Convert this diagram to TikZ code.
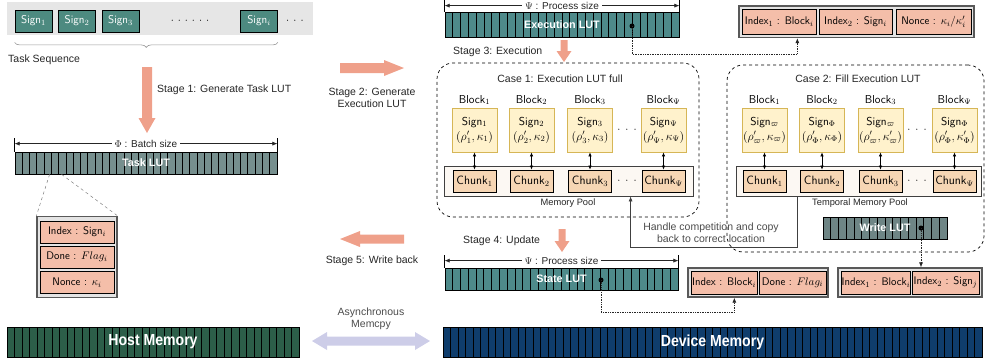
\documentclass[tikz,border=0pt]{standalone}
\usepackage{fontspec}
\newfontfamily\arial{Liberation Sans}
\usetikzlibrary{arrows.meta,decorations.pathreplacing,calc}
\definecolor{seqteal}{HTML}{4D8A80}
\definecolor{taskgray}{HTML}{768F8E}
\definecolor{lutteal}{HTML}{4E8A8A}
\definecolor{writegray}{HTML}{6E8585}
\definecolor{salmon}{HTML}{EFA08A}
\definecolor{idxfill}{HTML}{F4BEA9}
\definecolor{outerfill}{HTML}{E4E4E4}
\definecolor{yelfill}{HTML}{FFF2CC}
\definecolor{yelline}{HTML}{D6B656}
\definecolor{chunkfill}{HTML}{F6D6B4}
\definecolor{poolfill}{HTML}{FCF8F3}
\definecolor{hostgreen}{HTML}{2C5E49}
\definecolor{devblue}{HTML}{0F3D6C}
\definecolor{lav}{HTML}{CDCDE8}
\definecolor{seqbg}{HTML}{E6E6E6}

\newcommand\stripebar[8]{% name x1 y1 x2 y2 cells fill stripewidth
  \pgfmathsetmacro\sbw{#4-#2}\pgfmathsetmacro\sbh{#5-#3}%
  \pgfmathsetmacro\sbx{(#2+#4)/2}\pgfmathsetmacro\sby{(#3+#5)/2}%
  \pgfmathsetmacro\sbs{(#4-#2)/#6}\pgfmathtruncatemacro\sbn{#6-1}%
  \node[draw=black, fill=#7, line width=#8, inner sep=0pt, minimum width=\sbw pt, minimum height=\sbh pt] (#1) at (\sbx,\sby) {};
  \foreach \k in {1,...,\sbn}{\draw[line width=#8] ({#2+\k*\sbs},#3) -- ({#2+\k*\sbs},#5);}
}
\newcommand\harr[7]{% x1 x2 y shafthalf headhalf headlen(signed) color
  \fill[#7] (#1,{#3-#4}) -- ({#2-(#6)},{#3-#4}) -- ({#2-(#6)},{#3-#5}) -- (#2,#3) -- ({#2-(#6)},{#3+#5}) -- ({#2-(#6)},{#3+#4}) -- (#1,{#3+#4}) -- cycle;}
\newcommand\varr[7]{% x y1 y2 shafthalf headhalf headlen color
  \fill[#7] ({#1-#4},#2) -- ({#1-#4},{#3-#6}) -- ({#1-#5},{#3-#6}) -- (#1,#3) -- ({#1+#5},{#3-#6}) -- ({#1+#4},{#3-#6}) -- ({#1+#4},#2) -- cycle;}
\newcommand\tdots[1]{$\cdot$\hspace{#1}$\cdot$\hspace{#1}$\cdot$}

\begin{document}
\begin{tikzpicture}[x=1pt,y=-1pt,
  lbl/.style={font=\arial\fontsize{10.5}{12.5}\selectfont, text=black!85, inner sep=0pt},
  slbl/.style={font=\arial\fontsize{9.3}{11}\selectfont, text=black!85, inner sep=0pt},
  dlbl/.style={font=\arial\fontsize{10}{11}\selectfont, text=black!85, fill=white, inner xsep=3pt, inner ysep=1pt},
  sf/.style={font=\sffamily\fontsize{11.3}{13}\selectfont, inner sep=0pt},
  sfi/.style={font=\sffamily\fontsize{11}{13}\selectfont, inner sep=0pt},
  sfb/.style={font=\sffamily\fontsize{11.5}{13}\selectfont, inner sep=0pt},
  signbox/.style={sf, draw=black, fill=seqteal, text=white, minimum width=37pt, minimum height=22pt, line width=0.8pt},
  luttext/.style={font=\arial\bfseries\fontsize{10.8}{13}\selectfont, text=white, inner sep=0pt},
  memtext/.style={font=\arial\bfseries\fontsize{16}{18}\selectfont, text=white, inner sep=0pt},
  outerbox/.style={draw=black!65, fill=outerfill, line width=1.3pt, inner sep=0pt},
  idx/.style={sfi, draw=black, fill=idxfill, line width=0.8pt, minimum height=23pt},
  yel/.style={font=\sffamily\fontsize{11.5}{15}\selectfont, inner sep=0pt, draw=yelline, fill=yelfill, line width=0.8pt, minimum width=45pt, minimum height=44pt, align=center},
  chunk/.style={font=\sffamily\fontsize{12}{13}\selectfont, inner sep=0pt, draw=black, fill=chunkfill, line width=0.8pt, minimum width=43pt, minimum height=22pt},
  pool/.style={draw=black!75, fill=poolfill, line width=0.8pt, inner sep=0pt},
  dotc/.style={densely dotted, line width=0.7pt, black!85, -{Latex[length=5pt,width=4pt]}},
  dimline/.style={line width=0.6pt, black!85, {Latex[length=5pt,width=4pt]}-{Latex[length=5pt,width=4pt]}},
  dotnode/.style={circle, fill=black, inner sep=0pt, minimum size=5pt},
  casebox/.style={draw=black, dashed, line width=0.7pt, rounded corners=16pt, inner sep=0pt},
  dblarr/.style={line width=0.6pt, {Latex[length=4pt,width=3.5pt]}-{Latex[length=4pt,width=3.5pt]}}
]
\useasboundingbox (0,0) rectangle (985,362);

% ---------- task sequence ----------
\fill[seqbg] (7,2) rectangle (313,35);
\node[signbox] (s1) at (33.5,21) {Sign$_1$};
\node[signbox] (s2) at (77,21) {Sign$_2$};
\node[signbox] (s3) at (120.5,21) {Sign$_3$};
\node[signbox] (si) at (259,21) {Sign$_i$};
\node[sf] (sd) at (190,21) {\tdots{4pt}\hspace{4pt}\tdots{4pt}};
\node[sf] (se) at (295,21) {\tdots{4.2pt}};
\draw[decorate, decoration={brace, mirror, amplitude=5pt}, black!40, line width=0.6pt] ([yshift=-10pt]s1.south west) -- ([yshift=-10pt]si.south east);
\node[lbl, anchor=west] (tseq) at (8,60) {Task Sequence};

% ---------- stage 1 and task LUT ----------
\varr{147}{67}{133}{5}{8.5}{15}{salmon}
\node[lbl, anchor=west] (st1) at (157,90) {Stage 1: Generate Task LUT};
\stripebar{task}{15}{152}{277}{174}{36}{taskgray}{0.8pt}
\node[luttext] (tasklbl) at (task) {Task LUT};
\draw[line width=0.6pt] (task.north west) -- ++(0,-14);
\draw[line width=0.6pt] (task.north east) -- ++(0,-14);
\draw[dimline] ([yshift=8pt]task.north west) -- ([yshift=8pt]task.north east);
\node[dlbl] (taskdim) at ([yshift=8pt]task.north) {$\Phi$ : Batch size};

% ---------- left record ----------
\node[outerbox, minimum width=80pt, minimum height=81pt] (lo) at (77,257) {};
\node[idx, minimum width=74pt, minimum height=22pt] (l1) at (77,232) {Index : Sign$_i$};
\node[idx, minimum width=74pt, minimum height=22pt] (l2) at (77,257) {Done : $Flag_i$};
\node[idx, minimum width=74pt, minimum height=22pt] (l3) at (77,282.5) {Nonce : $\kappa_i$};
\draw[dashed, black!50, line width=0.5pt] ([xshift=35pt]task.south west) -- (lo.north west);
\draw[dashed, black!50, line width=0.5pt] ([xshift=47pt]task.south west) -- (lo.north east);

% ---------- middle stage arrows ----------
\harr{340}{404}{68}{5}{8}{20}{salmon}
\node[lbl, align=center, font=\arial\fontsize{10.5}{12.5}\selectfont] (st2) at (372,98) {Stage 2: Generate\\Execution LUT};
\harr{404}{340}{239}{4.5}{8}{-20}{salmon}
\node[lbl] (st5) at (372,261) {Stage 5: Write back};
\node[lbl, align=center, text=black!70, font=\arial\fontsize{10.5}{12}\selectfont] (async) at (371,319) {Asynchronous\\Memcpy};
\fill[lav] (312,341) -- (327,332) -- (327,336.5) -- (415,336.5) -- (415,332) -- (430,341) -- (415,350) -- (415,345.5) -- (327,345.5) -- (327,350) -- cycle;

% ---------- execution LUT ----------
\stripebar{exec}{445}{12.5}{679}{37.5}{30}{lutteal}{0.8pt}
\node[luttext] (execlbl) at (exec) {Execution LUT};
\node[dotnode] (edot) at (632,26) {};
\draw[line width=0.6pt] (exec.north west) -- ++(0,-12.5);
\draw[line width=0.6pt] (exec.north east) -- ++(0,-12.5);
\draw[dimline] ([yshift=6.5pt]exec.north west) -- ([yshift=6.5pt]exec.north east);
\node[dlbl] (execdim) at ([yshift=6.5pt]exec.north) {$\Psi$ : Process size};
\node[lbl, anchor=west] (st3) at (453,52) {Stage 3: Execution};
\varr{564}{40}{62}{3.5}{7.5}{11}{salmon}

% top-right record
\node[outerbox, minimum width=235pt, minimum height=31.5pt] (tro) at (856.5,21.75) {};
\node[idx, minimum width=73.5pt, minimum height=24.5pt] (tr1) at (779.25,21.75) {Index$_1$ : Block$_i$};
\node[idx, minimum width=73pt, minimum height=24.5pt] (tr2) at (855.5,21.75) {Index$_2$ : Sign$_i$};
\node[idx, minimum width=75pt, minimum height=24.5pt] (tr3) at (933.5,21.75) {Nonce : $\kappa_i/\kappa'_i$};
\coordinate (ta) at ([xshift=59pt]tro.south west);
\draw[dotc] (edot.center) -- ++(0,28) -| (ta);

% ---------- case 1 ----------
\node[casebox, minimum width=262pt, minimum height=154pt] (case1) at (568,140) {};
\node[lbl] (c1t) at (560,79) {Case 1: Execution LUT full};
\node[sfb] (b1) at (474.5,100) {Block$_1$};
\node[sfb] (b2) at (531.5,100) {Block$_2$};
\node[sfb] (b3) at (590,100) {Block$_3$};
\node[sfb] (b4) at (663.5,100) {Block$_\Psi$};
\node[yel] (y1) at (474.5,130) {Sign$_1$\\$(\rho'_1,\kappa_1)$};
\node[yel] (y2) at (531.5,130) {Sign$_2$\\$(\rho'_2,\kappa_2)$};
\node[yel] (y3) at (590,130) {Sign$_3$\\$(\rho'_3,\kappa_3)$};
\node[yel] (y4) at (663.5,130) {Sign$_\Psi$\\$(\rho'_\Psi,\kappa_\Psi)$};
\node[sf] (yd) at (627,130) {\tdots{5pt}};
\node[pool, minimum width=249pt, minimum height=30pt] (mpool) at (568.5,181) {};
\node[chunk] (c1) at (474.5,181) {Chunk$_1$};
\node[chunk] (c2) at (531.5,181) {Chunk$_2$};
\node[chunk] (c3) at (590,181) {Chunk$_3$};
\node[chunk] (c4) at (663.5,181) {Chunk$_\Psi$};
\node[sf] (cd) at (627,181) {\tdots{5pt}};
\foreach \i in {1,2,3,4}{\draw[dblarr] (y\i) -- (c\i);}
\node[slbl] (mpl) at (568,203) {Memory Pool};

% ---------- case 2 ----------
\node[casebox, minimum width=257pt, minimum height=187pt] (case2) at (855.5,158.5) {};
\node[lbl] (c2t) at (858,79) {Case 2: Fill Execution LUT};
\node[sfb] (bb1) at (764.5,100) {Block$_1$};
\node[sfb] (bb2) at (822,100) {Block$_2$};
\node[sfb] (bb3) at (880.5,100) {Block$_3$};
\node[sfb] (bb4) at (954.5,100) {Block$_\Psi$};
\node[yel] (z1) at (764.5,130) {Sign$_\varpi$\\$(\rho'_\varpi,\kappa_\varpi)$};
\node[yel] (z2) at (822,130) {Sign$_\Phi$\\$(\rho'_\Phi,\kappa_\Phi)$};
\node[yel] (z3) at (880.5,130) {Sign$_\varpi$\\$(\rho'_\varpi,\kappa'_\varpi)$};
\node[yel] (z4) at (954.5,130) {Sign$_\Phi$\\$(\rho'_\Phi,\kappa'_\Phi)$};
\node[sf] (zd) at (917,130) {\tdots{5pt}};
\node[pool, minimum width=245pt, minimum height=30pt] (tpool) at (858.5,181) {};
\node[chunk] (d1) at (764.5,181) {Chunk$_1$};
\node[chunk] (d2) at (822,181) {Chunk$_2$};
\node[chunk] (d3) at (880.5,181) {Chunk$_3$};
\node[chunk] (d4) at (954.5,181) {Chunk$_\Psi$};
\node[sf] (dd) at (917,181) {\tdots{5pt}};
\foreach \i in {1,2,3,4}{\draw[dblarr] (z\i) -- (d\i);}
\node[slbl] (tpl) at (860,203) {Temporal Memory Pool};

% write LUT
\stripebar{wlut}{823}{217}{947}{239}{16}{writegray}{0.8pt}
\node[luttext] (wlbl) at (wlut) {Write LUT};
\node[dotnode] (wdot) at (921,228) {};

% handle competition connector
\coordinate (hs) at ([xshift=62pt]tpool.south west);
\coordinate (he) at ([xshift=187pt]mpool.south west);
\draw[line width=0.7pt, black!75, -{Latex[length=5pt,width=4pt]}] (hs) -- ++(0,51) -| (he);
\node[lbl, align=center, text=black!70, font=\arial\fontsize{10.5}{11.5}\selectfont] (hlbl) at (711,232.5) {Handle competition and copy\\back to correct location};

% ---------- stage 4 and state LUT ----------
\node[lbl, anchor=west] (st4) at (463,241) {Stage 4: Update};
\varr{562}{229}{252}{3.5}{7.5}{11}{salmon}
\stripebar{state}{445}{268}{678}{290}{30}{lutteal}{0.8pt}
\node[luttext] (statelbl) at (state) {State LUT};
\node[dotnode] (sdot) at (601,280) {};
\draw[line width=0.6pt] (state.north west) -- ++(0,-13);
\draw[line width=0.6pt] (state.north east) -- ++(0,-13);
\draw[dimline] ([yshift=7pt]state.north west) -- ([yshift=7pt]state.north east);
\node[dlbl] (statedim) at ([yshift=7pt]state.north) {$\Psi$ : Process size};

% bottom-middle record
\node[outerbox, minimum width=140pt, minimum height=29pt] (bmo) at (758,282.5) {};
\node[idx, minimum width=66pt] (bm1) at (724,282.5) {Index : Block$_i$};
\node[idx, minimum width=67pt] (bm2) at (792.5,282.5) {Done : $Flag_i$};
\coordinate (mb) at ([xshift=47pt]bmo.south west);
\draw[dotc] (sdot.center) -- ++(0,32) -| (mb);

% bottom-right record
\node[outerbox, minimum width=144pt, minimum height=29pt] (bro) at (910,282.5) {};
\node[idx, minimum width=68pt] (br1) at (876,282.5) {Index$_1$ : Block$_i$};
\node[idx, minimum width=67pt] (br2) at (945.5,282.5) {Index$_2$ : Sign$_j$};
\draw[dotc] (wdot.center) -- (wdot.center |- bro.north);

% ---------- memories ----------
\stripebar{host}{7}{327}{299}{357}{39}{hostgreen}{0.5pt}
\node[memtext] (hostlbl) at (host) {\scalebox{0.88}[1]{Host Memory}};
\stripebar{dev}{443}{327}{982}{357}{72}{devblue}{0.5pt}
\node[memtext] (devlbl) at (dev) {\scalebox{0.88}[1]{Device Memory}};
\end{tikzpicture}
\end{document}
